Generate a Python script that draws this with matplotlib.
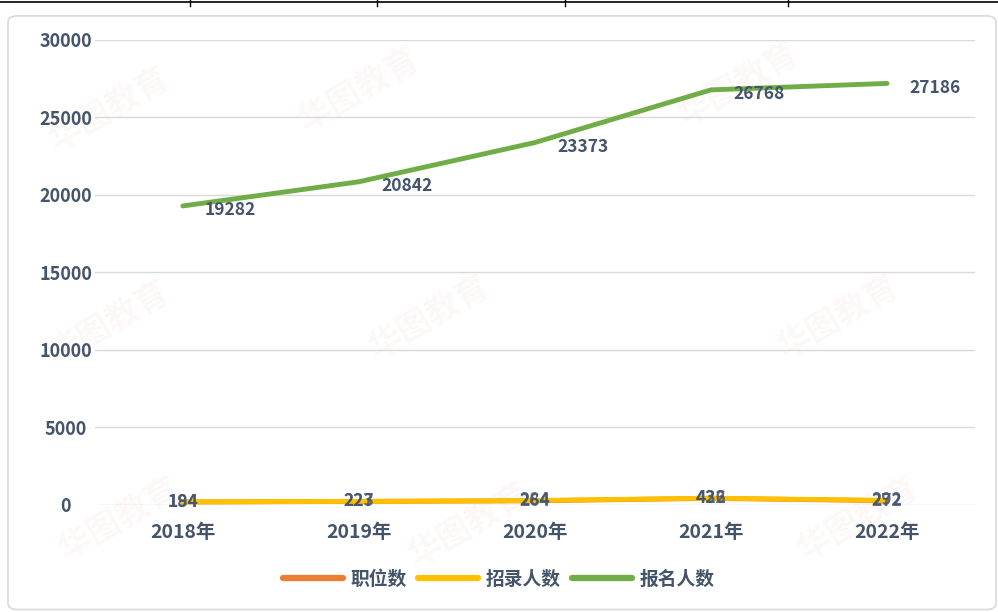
import matplotlib.pyplot as plt
from matplotlib.patches import FancyBboxPatch

plt.rcParams['font.family'] = ['Noto Sans CJK SC', 'DejaVu Sans']

years = ["2018年", "2019年", "2020年", "2021年", "2022年"]
posts = [184, 223, 264, 422, 272]          # 职位数
recruits = [194, 227, 284, 436, 292]       # 招录人数
applicants = [19282, 20842, 23373, 26768, 27186]  # 报名人数

text_col = "#44546A"
fig = plt.figure(figsize=(9.98, 6.12), dpi=100)

# outer chart frame
frame = FancyBboxPatch((0.008, 0.004), 0.99, 0.97, boxstyle="round,pad=0,rounding_size=0.01",
                       transform=fig.transFigure, fc="white", ec="#D9D9D9", lw=1.2, zorder=-10)
fig.patches.append(frame)
# table edge above the chart
fig.add_artist(plt.Line2D([0, 1], [0.996, 0.996], transform=fig.transFigure, color="black", lw=1.2))
for xv in [0.19, 0.378, 0.566, 0.79]:
    fig.add_artist(plt.Line2D([xv, xv], [0.99, 1.0], transform=fig.transFigure, color="black", lw=1))

# faint watermarks
for wx, wy in [(0.11, 0.82), (0.36, 0.85), (0.74, 0.86), (0.11, 0.47), (0.43, 0.48),
               (0.84, 0.48), (0.12, 0.15), (0.47, 0.14), (0.86, 0.15)]:
    fig.text(wx, wy, "华图教育", fontsize=24, fontweight="bold", color="#C00000",
             alpha=0.03, rotation=30, ha="center", va="center", zorder=-5)

ax = fig.add_axes([0.095, 0.175, 0.882, 0.76])
ax.patch.set_visible(False)
x = list(range(len(years)))
ax.plot(x, posts, color="#ED7D31", lw=3.5, solid_capstyle="round", label="职位数")
ax.plot(x, recruits, color="#FFC000", lw=3.5, solid_capstyle="round", label="招录人数")
ax.plot(x, applicants, color="#70AD47", lw=3.5, solid_capstyle="round", label="报名人数")

ax.set_xlim(-0.5, 4.5)
ax.set_ylim(0, 30000)
ax.set_yticks(range(0, 30001, 5000))
ax.set_xticks(x)
ax.set_xticklabels(years)
ax.grid(axis="y", color="#D9D9D9", lw=1)
ax.set_axisbelow(True)
for s in ax.spines.values():
    s.set_visible(False)
ax.tick_params(axis="y", length=0, colors=text_col, labelsize=13, pad=21)
ax.tick_params(axis="x", length=0, colors=text_col, labelsize=14, pad=13)
for lab in ax.get_xticklabels() + ax.get_yticklabels():
    lab.set_fontweight("bold")
for lab in ax.get_yticklabels():
    lab.set_horizontalalignment("center")

# data labels
for i, v in enumerate(posts):
    ax.annotate(str(v), (i, v), ha="center", va="center", color=text_col,
                fontsize=12.5, fontweight="bold", alpha=0.85)
for i, v in enumerate(recruits):
    ax.annotate(str(v), (i, v), ha="center", va="center", color=text_col,
                fontsize=12.5, fontweight="bold", alpha=0.85)
for i, v in enumerate(applicants):
    ax.annotate(str(v), (i, v), xytext=(16, -3), textcoords="offset points",
                ha="left", va="center", color=text_col, fontsize=12.5, fontweight="bold")

leg = fig.legend(loc="lower center", bbox_to_anchor=(0.5, 0.01), ncol=3, frameon=False,
                 fontsize=13.5, handlelength=3.2, columnspacing=0.6, handletextpad=0.4)
for t in leg.get_texts():
    t.set_color(text_col)
    t.set_fontweight("bold")
for h in leg.legend_handles:
    h.set_linewidth(4.5)

fig.savefig("out.png", dpi=100)
